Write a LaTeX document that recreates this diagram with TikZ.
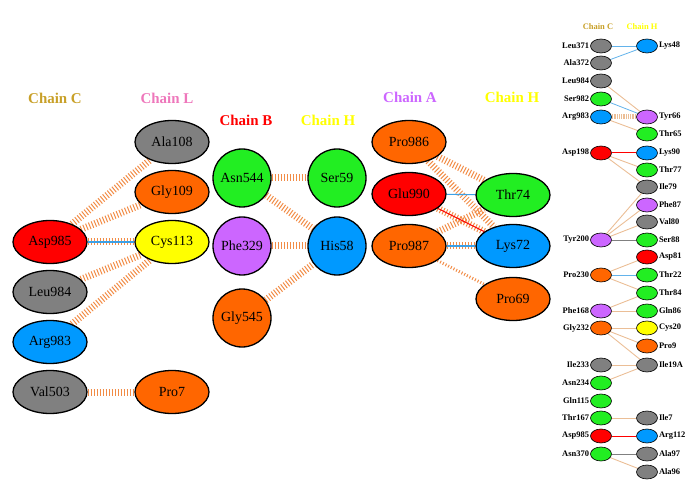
\documentclass[tikz,border=0pt]{standalone}
\usepackage{fontspec}
\setmainfont{Liberation Serif}
\usetikzlibrary{positioning, shapes.geometric, backgrounds}
\definecolor{resgray}{RGB}{128,128,128}
\definecolor{resorange}{RGB}{255,102,0}
\definecolor{resred}{RGB}{255,0,0}
\definecolor{resgreen}{RGB}{34,238,34}
\definecolor{resblue}{RGB}{0,153,255}
\definecolor{resyellow}{RGB}{255,255,0}
\definecolor{respurple}{RGB}{204,102,255}
\definecolor{chainc}{RGB}{200,160,40}
\definecolor{chainl}{RGB}{238,119,187}
\definecolor{hatch}{RGB}{242,140,70}
\definecolor{tan}{RGB}{235,190,150}
\definecolor{hbond}{RGB}{60,160,230}

\begin{document}
\begin{tikzpicture}[
  x=1bp, y=-1bp,
  res/.style={ellipse, draw=black, line width=1.3bp, minimum width=74bp,
    minimum height=43bp, inner sep=0pt, font=\fontsize{14}{14}\selectfont},
  round res/.style={circle, draw=black, line width=1.3bp, minimum size=58bp,
    inner sep=0pt, font=\fontsize{14}{14}\selectfont},
  small res/.style={ellipse, draw=black, line width=0.6bp, minimum width=21bp,
    minimum height=14bp, inner sep=0pt},
  chain/.style={font=\bfseries\fontsize{15}{15}\selectfont},
  small chain/.style={font=\bfseries\fontsize{8.5}{8.5}\selectfont},
  lab/.style={font=\bfseries\fontsize{8.5}{8.5}\selectfont, inner sep=1bp},
  hyd/.style={draw=hatch, line width=7bp, dash pattern=on 1bp off 2bp},
  hb/.style={draw=hbond, line width=1.1bp},
  salt/.style={draw=resred, line width=1bp},
  thin/.style={draw=tan, line width=0.9bp},
  thinhb/.style={draw=hbond!80, line width=0.8bp}
]
\useasboundingbox (0,0) rectangle (686,482);

% chain titles
\node[chain, text=chainc] (tC) at (55,98) {Chain C};
\node[chain, text=chainl] (tL) at (167,98) {Chain L};
\node[chain, text=resred] (tB) at (246,120) {Chain B};
\node[chain, text=resyellow] (tH) at (328,120) {Chain H};
\node[chain, text=respurple] (tA) at (410,97) {Chain A};
\node[chain, text=resyellow] (tH2) at (512,97) {Chain H};

% chain C / chain L
\node[res, fill=resred] (cAsp985) at (50,242) {Asp985};
\node[res, fill=resgray] (cLeu984) at (50,292) {Leu984};
\node[res, fill=resblue] (cArg983) at (50,342) {Arg983};
\node[res, fill=resgray] (cVal503) at (50,392) {Val503};
\node[res, fill=resgray] (lAla108) at (172,142) {Ala108};
\node[res, fill=resorange] (lGly109) at (172,192) {Gly109};
\node[res, fill=resyellow] (lCys113) at (172,242) {Cys113};
\node[res, fill=resorange] (lPro7) at (172,392) {Pro7};

% chain B / chain H
\node[round res, fill=resgreen] (bAsn544) at (242,178) {Asn544};
\node[round res, fill=respurple] (bPhe329) at (242,246) {Phe329};
\node[round res, fill=resorange] (bGly545) at (242,318) {Gly545};
\node[round res, fill=resgreen] (hSer59) at (337,178) {Ser59};
\node[round res, fill=resblue] (hHis58) at (337,246) {His58};

% chain A / chain H
\node[res, fill=resorange] (aPro986) at (409,142) {Pro986};
\node[res, fill=resred] (aGlu990) at (409,194) {Glu990};
\node[res, fill=resorange] (aPro987) at (409,246) {Pro987};
\node[res, fill=resgreen] (hThr74) at (513,195) {Thr74};
\node[res, fill=resblue] (hLys72) at (513,246) {Lys72};
\node[res, fill=resorange] (hPro69) at (513,299) {Pro69};

% small panel
\node[small chain, text=chainc] (sC) at (598,27) {Chain C};
\node[small chain, text=resyellow] (sH) at (642,27) {Chain H};
\foreach \name/\col/\y in {Leu371/resgray/46, Ala372/resgray/63, Leu984/resgray/81,
    Ser982/resgreen/99, Arg983/resblue/117, Asp198/resred/153, Tyr200/respurple/240,
    Pro230/resorange/275, Phe168/respurple/311, Gly232/resorange/328,
    Ile233/resgray/365, Asn234/resgreen/383, Gln115/resgreen/401,
    Thr167/resgreen/418, Asp985/resred/436, Asn370/resgreen/454}
  \node[small res, fill=\col, label={[lab]left:\name}] (sc\name) at (601,\y) {};
\foreach \name/\col/\y in {Lys48/resblue/46, Tyr66/respurple/117, Thr65/resgreen/134,
    Lys90/resblue/153, Thr77/resgreen/170, Ile79/resgray/187, Phe87/respurple/205,
    Val80/resgray/222, Ser88/resgreen/240, Asp81/resred/257, Thr22/resgreen/275,
    Thr84/resgreen/293, Gln86/resgreen/311, Cys20/resyellow/328, Pro9/resorange/346,
    Ile19A/resgray/365, Ile7/resgray/418, Arg112/resblue/436, Ala97/resgray/454,
    Ala96/resgray/472}
  \node[small res, fill=\col, label={[lab]right:\name}] (sh\name) at (647,\y) {};

\begin{scope}[on background layer]
\draw[hyd] (cAsp985) -- (lAla108);
\draw[hyd] (cAsp985) -- (lGly109);
\draw[hyd] (cAsp985) -- (lCys113);
\draw[hyd] (cLeu984) -- (lCys113);
\draw[hyd] (cArg983) -- (lCys113);
\draw[hyd] (cVal503) -- (lPro7);
\draw[hb] (cAsp985) -- (lCys113);

\draw[hyd] (bAsn544) -- (hSer59);
\draw[hyd] (bAsn544) -- (hHis58);
\draw[hyd] (bPhe329) -- (hHis58);
\draw[hyd] (bGly545) -- (hHis58);

\draw[hyd] (aPro986) -- (hThr74);
\draw[hyd] (aPro986) -- (hLys72);
\draw[hyd] (aGlu990) -- (hLys72);
\draw[hyd] (aPro987) -- (hThr74);
\draw[hyd] (aPro987) -- (hLys72);
\draw[hyd, line width=3bp] (aPro987) -- (hPro69);
\draw[hb] (aGlu990) -- (hThr74);
\draw[hb] (aPro987) -- (hLys72);
\draw[salt] (aGlu990) -- (hLys72);

\draw[thinhb] (scLeu371) -- (shLys48);
\draw[thinhb] (scAla372) -- (shLys48);
\draw[thin] (scLeu984) -- (shTyr66);
\draw[thinhb] (scSer982) -- (shTyr66);
\draw[thin, line width=5bp, dash pattern=on 0.8bp off 1bp] (scArg983) -- (shTyr66);
\draw[thin] (scArg983) -- (shThr65);
\draw[salt] (scAsp198) -- (shLys90);
\draw[thin] (scAsp198) -- (shThr77);
\draw[thin] (scAsp198) -- (shIle79);
\draw[thin] (scTyr200) -- (shIle79);
\draw[thin] (scTyr200) -- (shPhe87);
\draw[thin] (scTyr200) -- (shVal80);
\draw[draw=resgray, line width=0.8bp] (scTyr200) -- (shSer88);
\draw[thin] (scPro230) -- (shAsp81);
\draw[thinhb] (scPro230) -- (shThr22);
\draw[thin] (scPro230) -- (shThr84);
\draw[thin] (scPhe168) -- (shThr84);
\draw[thin] (scPhe168) -- (shGln86);
\draw[thin] (scGly232) -- (shCys20);
\draw[thin] (scGly232) -- (shPro9);
\draw[thin] (scGly232) -- (shIle19A);
\draw[thin] (scIle233) -- (shIle19A);
\draw[thin] (scAsn234) -- (shIle19A);
\draw[thin] (scThr167) -- (shIle7);
\draw[salt] (scAsp985) -- (shArg112);
\draw[draw=resgray, line width=0.8bp] (scAsn370) -- (shAla97);
\draw[thin] (scAsn370) -- (shAla96);
\end{scope}
\end{tikzpicture}
\end{document}
